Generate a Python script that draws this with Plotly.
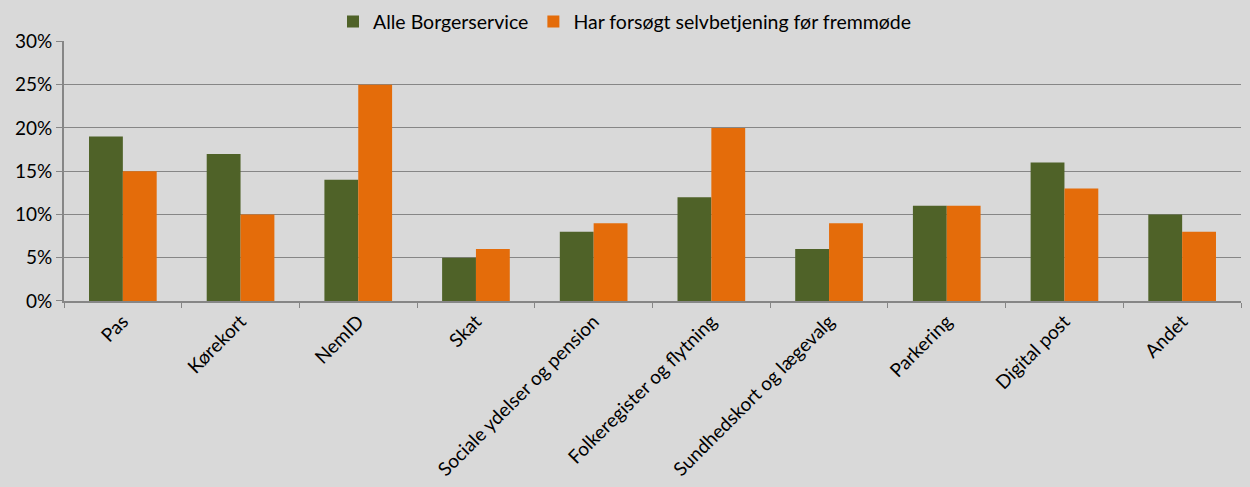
import plotly.graph_objects as go

categories = ["Pas", "Kørekort", "NemID", "Skat", "Sociale ydelser og pension",
              "Folkeregister og flytning", "Sundhedskort og lægevalg", "Parkering",
              "Digital post", "Andet"]
alle = [0.19, 0.17, 0.14, 0.05, 0.08, 0.12, 0.06, 0.11, 0.16, 0.10]
selv = [0.15, 0.10, 0.25, 0.06, 0.09, 0.20, 0.09, 0.11, 0.13, 0.08]
y_ticks = [0, 0.05, 0.10, 0.15, 0.20, 0.25, 0.30]

font = "Lato, Open Sans, sans-serif"
fig = go.Figure()
fig.add_bar(x=categories, y=alle, name="Alle Borgerservice", marker_color="#4F6228",
            marker_line_width=0)
fig.add_bar(x=categories, y=selv, name="Har forsøgt selvbetjening før fremmøde",
            marker_color="#E46C0A", marker_line_width=0)

fig.update_layout(
    width=1250, height=487,
    paper_bgcolor="#D9D9D9", plot_bgcolor="#D9D9D9",
    margin=dict(l=64, r=9, t=39, b=186),
    barmode="group", bargap=0.425, bargroupgap=0,
    font=dict(family=font, size=19, color="#000000"),
    legend=dict(orientation="h", xref="container", yref="container",
                x=0.50, xanchor="center", y=0.955, yanchor="middle",
                font=dict(size=19.5), itemwidth=30, traceorder="normal",
                bgcolor="rgba(0,0,0,0)"),
    showlegend=True,
)
fig.update_yaxes(range=[0, 0.30], tickvals=y_ticks, tickformat=".0%",
                 showgrid=True, gridcolor="#868686", gridwidth=1,
                 showline=True, linecolor="#868686", linewidth=2,
                 ticks="outside", ticklen=6, tickcolor="#868686",
                 zeroline=False, tickfont=dict(size=19), automargin=False)
fig.update_xaxes(showline=True, linecolor="#868686", linewidth=2,
                 ticks="outside", ticklen=5, tickcolor="#868686", tickson="boundaries",
                 tickangle=-45, tickfont=dict(size=19), showgrid=False,
                 automargin=False)

fig.write_html("out.html",
               config={"displayModeBar": False},
               post_script="document.body.style.margin='0';"
                           "document.body.style.background='#D9D9D9';")
